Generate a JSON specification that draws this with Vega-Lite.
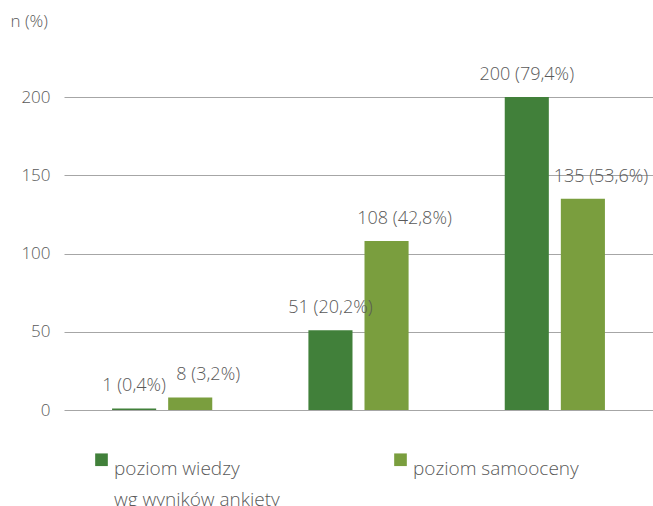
{
  "$schema": "https://vega.github.io/schema/vega-lite/v6.json",
  "autosize": "none",
  "width": 589,
  "height": 313,
  "padding": {"left": 64, "top": 97, "right": 0, "bottom": 96},
  "background": "white",
  "config": {
    "font": "Open Sans",
    "view": {"stroke": null},
    "axis": {"labelFont": "Open Sans", "labelColor": "#595959", "labelFontSize": 17, "labelFontWeight": 300}
  },
  "data": {
    "values": [
      {"group": "A", "series": "poziom wiedzy\nwg wyników ankiety", "n": 1, "label": "1 (0,4%)"},
      {"group": "A", "series": "poziom samooceny", "n": 8, "label": "8 (3,2%)"},
      {"group": "B", "series": "poziom wiedzy\nwg wyników ankiety", "n": 51, "label": "51 (20,2%)"},
      {"group": "B", "series": "poziom samooceny", "n": 108, "label": "108 (42,8%)"},
      {"group": "C", "series": "poziom wiedzy\nwg wyników ankiety", "n": 200, "label": "200 (79,4%)"},
      {"group": "C", "series": "poziom samooceny", "n": 135, "label": "135 (53,6%)"}
    ]
  },
  "encoding": {
    "x": {"field": "group", "type": "nominal", "scale": {"paddingInner": 0, "paddingOuter": 0}, "axis": null},
    "xOffset": {"field": "series", "type": "nominal", "sort": ["poziom wiedzy\nwg wyników ankiety", "poziom samooceny"], "scale": {"paddingInner": 0.214, "paddingOuter": 0.857}},
    "y": {"field": "n", "type": "quantitative", "scale": {"domain": [0, 200]},
      "axis": {"values": [0, 50, 100, 150, 200], "domain": false, "ticks": false, "labelPadding": 14, "gridColor": "#a6a6a6", "gridWidth": 1,
        "title": "n (%)", "titleAngle": 0, "titleX": -54, "titleY": -76, "titleAlign": "left", "titleBaseline": "middle", "titleFont": "Open Sans", "titleFontWeight": 300, "titleFontSize": 17, "titleColor": "#595959"}}
  },
  "layer": [
    {
      "mark": {"type": "bar"},
      "encoding": {
        "color": {"field": "series", "type": "nominal", "sort": ["poziom wiedzy\nwg wyników ankiety", "poziom samooceny"],
          "scale": {"range": ["#41803a", "#7a9e3e"]},
          "legend": {"title": null, "orient": "none", "legendX": 28, "legendY": 353, "direction": "horizontal", "columns": 2, "columnPadding": 111,
            "symbolType": "square", "symbolSize": 160, "symbolStrokeWidth": 0, "labelFont": "Open Sans", "labelFontSize": 19, "labelFontWeight": 300, "labelColor": "#595959",
            "labelOffset": 3, "labelLimit": 300, "labelBaseline": "top",
            "labelExpr": "indexof(datum.label, '\\n') >= 0 ? split(datum.label, '\\n') : [datum.label, ' ']", "padding": 0,
            "encode": {"labels": {"update": {"lineHeight": {"value": 31}}}}}}
      }
    },
    {
      "transform": [{"filter": "datum.series != 'poziom samooceny'"}],
      "mark": {"type": "text", "baseline": "middle", "dy": -22, "fontSize": 18, "fontWeight": 300, "color": "#595959", "font": "Open Sans"},
      "encoding": {"text": {"field": "label"}}
    },
    {
      "transform": [{"filter": "datum.series == 'poziom samooceny'"}],
      "mark": {"type": "text", "baseline": "middle", "dy": -22, "dx": 18, "fontSize": 18, "fontWeight": 300, "color": "#595959", "font": "Open Sans"},
      "encoding": {"text": {"field": "label"}}
    }
  ]
}
